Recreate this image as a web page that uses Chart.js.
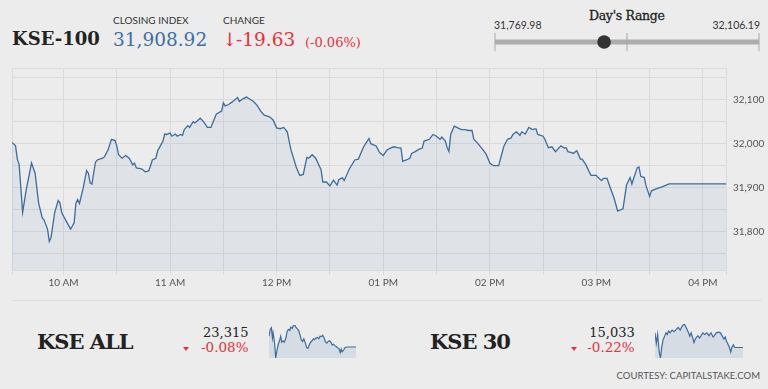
<!DOCTYPE html>
<html><head><meta charset="utf-8">
<script src="https://cdn.jsdelivr.net/npm/chart.js@4.4.1/dist/chart.umd.min.js"></script>
<style>
html,body{margin:0;padding:0;background:#ececec;}
body{width:768px;height:389px;position:relative;overflow:hidden;font-family:Lato,sans-serif;}
.a{position:absolute;white-space:nowrap;line-height:1;}
.serif{font-family:"DejaVu Serif",serif;}
canvas{position:absolute;}
.tri{position:absolute;width:0;height:0;border-left:3px solid transparent;border-right:3px solid transparent;border-top:4px solid #e8303a;}
</style></head><body>

<div class="a serif" style="left:12px;top:30px;font-size:18px;font-weight:bold;color:#222;">KSE-100</div>
<div class="a" style="left:113px;top:14.5px;font-size:10px;color:#333;">CLOSING INDEX</div>
<div class="a serif" id="closeTxt" style="left:113px;top:30.8px;font-size:18.5px;color:#3c6fa6;"></div>
<div class="a" style="left:223px;top:14.5px;font-size:10px;color:#333;">CHANGE</div>
<div class="a serif" style="left:222px;top:30.5px;font-size:18.5px;color:#e8303a;">↓</div>
<div class="a serif" id="chgTxt" style="left:236px;top:30.8px;font-size:18.5px;color:#e8303a;"></div>
<div class="a serif" id="pctTxt" style="left:305px;top:35.5px;font-size:13px;color:#e8303a;"></div>

<div class="a serif" style="left:589px;top:10px;font-size:12.5px;letter-spacing:-0.3px;color:#222;-webkit-text-stroke:0.3px #222;">Day's Range</div>
<div class="a" id="lowTxt" style="left:494px;top:20px;font-size:10.5px;color:#333;"></div>
<div class="a" id="highTxt" style="right:8px;top:20px;font-size:10.5px;color:#333;"></div>
<canvas id="range" width="285" height="30" style="left:485px;top:27px;"></canvas>

<canvas id="main" width="768" height="245" style="left:0;top:55px;"></canvas>

<div style="position:absolute;left:12px;top:300px;width:749px;height:1px;background:#d9d9d9;"></div>

<div class="a serif" id="n0" style="left:37px;top:330.5px;font-size:21px;font-weight:bold;letter-spacing:-1px;color:#222;"></div>
<div class="a serif" id="v0" style="right:519.5px;top:326.3px;font-size:13px;color:#222;"></div>
<div class="a serif" id="p0" style="right:519.5px;top:341.3px;font-size:13.5px;color:#e8303a;"></div>
<div class="tri" style="left:183px;top:347px;"></div>
<canvas id="spark0" width="87" height="34" style="left:269px;top:324px;"></canvas>

<div class="a serif" id="n1" style="left:430px;top:330.5px;font-size:21px;font-weight:bold;letter-spacing:-1px;color:#222;"></div>
<div class="a serif" id="v1" style="right:133.3px;top:326.3px;font-size:13px;color:#222;"></div>
<div class="a serif" id="p1" style="right:133.3px;top:341.3px;font-size:13.5px;color:#e8303a;"></div>
<div class="tri" style="left:571px;top:347px;"></div>
<canvas id="spark1" width="88" height="35" style="left:655px;top:323px;"></canvas>

<div class="a" style="right:8px;top:371px;font-size:9.5px;color:#555;">COURTESY: CAPITALSTAKE.COM</div>

<script>
// ---- headline figures ----
const closingIndex = 31908.92;
const changePoints = -19.63;
const changePct = -0.06;
const dayLow = 31769.98;
const dayHigh = 32106.19;

// ---- KSE-100 intraday (minutes since midnight, index value) ----
const kseTimes = [571,573,574,575,577,579,582,584,586,588,589,591,592,593,595,597,598,599,601,604,605,606,607,608,609,611,613,614,615,616,618,619,622,623,625,627,629,630,631,633,635,637,639,640,641,644,646,648,649,650,652,653,654,656,657,658,660,661,663,664,666,667,668,670,671,673,674,677,679,681,683,684,686,689,690,691,693,695,698,699,701,703,705,707,709,711,713,716,718,720,722,724,726,728,731,733,735,737,738,740,742,745,746,748,750,752,754,755,757,758,761,764,766,769,772,773,776,778,780,782,784,786,788,790,791,793,795,796,798,800,802,803,806,808,810,812,813,815,816,817,818,820,822,824,826,828,830,831,833,836,838,840,842,845,847,848,850,852,853,855,857,858,860,861,862,864,866,867,870,871,873,875,877,880,882,883,884,886,887,889,891,892,894,896,897,900,901,903,904,906,908,910,912,915,917,919,920,921,923,924,925,927,928,930,931,934,937,941,973];
const kseValues = [32003,31995,31965,31953,31844,31895,31956,31933,31865,31832,31827,31806,31778,31787,31843,31871,31865,31843,31828,31806,31813,31821,31865,31873,31864,31898,31939,31933,31911,31908,31958,31963,31967,31970,31985,32010,32007,31995,31975,31967,31973,31967,31952,31956,31945,31943,31936,31938,31950,31963,31967,31984,31991,32006,32022,32021,32024,32017,32022,32017,32021,32019,32032,32041,32037,32050,32047,32058,32049,32037,32037,32047,32067,32074,32093,32086,32089,32095,32105,32096,32102,32106,32101,32096,32087,32074,32065,32061,32054,32036,32034,32037,32027,31987,31947,31928,31930,31969,31967,31975,31967,31941,31913,31913,31904,31917,31906,31918,31923,31916,31943,31963,31965,31993,32012,32000,31995,31980,31973,31985,31990,31993,31991,31990,31960,31963,31967,31978,31982,31987,31990,32006,32010,32021,32017,32010,32015,32006,31991,31982,32021,32040,32036,32032,32032,32030,32030,32010,32002,31987,31976,31956,31950,31950,31980,31995,32010,32013,32021,32027,32019,32027,32022,32030,32037,32032,32034,32021,32017,32010,31991,31993,31982,31995,31990,31991,31982,31980,31978,31984,31965,31965,31953,31936,31928,31928,31923,31916,31921,31921,31898,31876,31847,31852,31906,31923,31908,31921,31945,31947,31926,31923,31904,31880,31893,31898,31902,31908.92,31908.92];

// ---- axis tick labels ----
const hourValues = [600,660,720,780,840,900,960];
const hourLabels = ['10 AM','11 AM','12 PM','01 PM','02 PM','03 PM','04 PM'];
const yLabelValues = [31800,31900,32000,32100];

// ---- other indices ----
const otherNames = ['KSE ALL','KSE 30'];
const otherValues = [23315, 15033];
const otherPct = [-0.08, -0.22];

const kseAllTimes = [571,577,582,587,590,596,602,608,614,621,625,630,636,642,649,655,661,667,672,678,683,689,695,701,708,714,720,726,732,739,745,751,757,763,770,776,782,788,794,801,807,813,819,826,832,838,844,850,857,863,869,875,881,888,894,900,905,909,916,922,928,934,947,973];
const kseAllValues = [23393,23443,23455,23380,23418,23355,23235,23293,23335,23368,23393,23350,23360,23350,23380,23430,23443,23435,23460,23450,23468,23475,23460,23448,23435,23405,23368,23355,23375,23343,23310,23305,23330,23350,23360,23375,23368,23380,23385,23375,23393,23390,23400,23380,23350,23343,23355,23360,23350,23330,23335,23325,23318,23310,23305,23275,23300,23280,23293,23310,23315,23315,23315,23315];

const kse30Times = [571,577,583,590,596,602,608,615,621,627,633,640,649,658,668,677,686,696,705,711,717,724,730,736,742,749,755,761,767,774,780,789,798,808,817,827,836,842,851,861,870,879,886,892,898,904,911,917,923,929,936,943,973];
const kse30Values = [15096,15051,15089,15014,14988,15036,15066,15081,15096,15089,15104,15096,15108,15101,15111,15119,15108,15126,15134,15123,15111,15096,15081,15096,15078,15054,15069,15078,15084,15074,15081,15096,15089,15096,15084,15096,15078,15084,15096,15099,15096,15081,15069,15078,15059,15048,15033,15014,15036,15044,15033,15033,15033];

const xMin = 571, xMax = 973;
const yMin = 31713, yMax = 32172;

// ---- texts ----
const fmt = (v, d) => v.toLocaleString('en-US', {minimumFractionDigits: d, maximumFractionDigits: d});
document.getElementById('closeTxt').textContent = fmt(closingIndex, 2);
document.getElementById('chgTxt').textContent = fmt(changePoints, 2);
document.getElementById('pctTxt').textContent = '(' + fmt(changePct, 2) + '%)';
document.getElementById('lowTxt').textContent = fmt(dayLow, 2);
document.getElementById('highTxt').textContent = fmt(dayHigh, 2);
otherNames.forEach((n, i) => {
  document.getElementById('n' + i).textContent = n;
  document.getElementById('v' + i).textContent = fmt(otherValues[i], 0);
  document.getElementById('p' + i).textContent = fmt(otherPct[i], 2) + '%';
});

const lineBlue = '#3d6c9c';
const gridCol = '#dadada';

// x grid every 30 min plus the bounds
const xGrid = [xMin];
for (let v = 600; v <= 960; v += 30) xGrid.push(v);
xGrid.push(xMax);
const yGrid = [yMin];
for (let v = 31750; v <= 32150; v += 50) yGrid.push(v);
yGrid.push(yMax);

new Chart(document.getElementById('main'), {
  type: 'line',
  data: { datasets: [{
    data: kseTimes.map((t, i) => ({x: t, y: kseValues[i]})),
    borderColor: lineBlue, borderWidth: 1.3,
    backgroundColor: 'rgba(60,110,170,0.07)', fill: 'start',
    pointRadius: 0, tension: 0
  }]},
  options: {
    responsive: false, animation: false, events: [],
    layout: { padding: { left: 12, top: 8, right: 0, bottom: 0 } },
    plugins: { legend: { display: false }, tooltip: { enabled: false } },
    scales: {
      x: {
        type: 'linear', min: xMin, max: xMax,
        afterBuildTicks: s => { s.ticks = xGrid.map(v => ({value: v})); },
        afterFit: s => { s.height = 30; },
        grid: { color: gridCol, tickLength: 5, drawTicks: true },
        border: { color: gridCol },
        ticks: { autoSkip: false, maxRotation: 0, padding: 2, color: '#555',
          font: { family: 'Lato', size: 10 },
          callback: v => { const i = hourValues.indexOf(v); return i >= 0 ? hourLabels[i] : ''; } }
      },
      y: {
        position: 'right', min: yMin, max: yMax,
        afterBuildTicks: s => { s.ticks = yGrid.map(v => ({value: v})); },
        afterFit: s => { s.width = 42; },
        grid: { color: gridCol, drawTicks: false },
        border: { color: gridCol },
        ticks: { autoSkip: false, padding: 7, color: '#555',
          font: { family: 'Lato', size: 10 },
          callback: v => yLabelValues.includes(v) ? v.toLocaleString('en-US') : '' }
      }
    }
  }
});

// Day's range slider: bar, three tick marks, and the closing-index dot
const rangeTicks = [dayLow, (dayLow + dayHigh) / 2, dayHigh];
new Chart(document.getElementById('range'), {
  type: 'line',
  data: { datasets: [
    { data: [{x: dayLow, y: 0}, {x: dayHigh, y: 0}], borderColor: '#adadad', borderWidth: 5, pointRadius: 0, borderCapStyle: 'butt', clip: false, order: 3 },
    { data: rangeTicks.map(v => ({x: v, y: 0})), showLine: false, pointStyle: 'line', rotation: 90, pointRadius: 9, pointBorderWidth: 1, pointBorderColor: '#a9a9a9', clip: false, order: 2 },
    { data: [{x: closingIndex, y: 0}], showLine: false, pointStyle: 'circle', pointRadius: 6.8, pointBackgroundColor: '#333', pointBorderWidth: 0, pointBorderColor: '#333', clip: false, order: 1 }
  ]},
  options: {
    responsive: false, animation: false, events: [],
    layout: { padding: { left: 10, right: 11, top: 0, bottom: 0 } },
    plugins: { legend: { display: false }, tooltip: { enabled: false } },
    scales: {
      x: { type: 'linear', display: false, min: dayLow, max: dayHigh },
      y: { display: false, min: -1, max: 1 }
    }
  }
});

function spark(id, times, values) {
  new Chart(document.getElementById(id), {
    type: 'line',
    data: { datasets: [{
      data: times.map((t, i) => ({x: t, y: values[i]})),
      borderColor: lineBlue, borderWidth: 1.2,
      backgroundColor: 'rgba(60,110,170,0.12)', fill: 'start',
      pointRadius: 0, tension: 0
    }]},
    options: {
      responsive: false, animation: false, events: [],
      layout: { padding: { top: 1, bottom: 0, left: 0, right: 0 } },
      plugins: { legend: { display: false }, tooltip: { enabled: false } },
      scales: {
        x: { type: 'linear', display: false, min: xMin, max: xMax },
        y: { display: false, min: Math.min(...values), max: Math.max(...values) }
      }
    }
  });
}
spark('spark0', kseAllTimes, kseAllValues);
spark('spark1', kse30Times, kse30Values);
</script>
</body></html>
